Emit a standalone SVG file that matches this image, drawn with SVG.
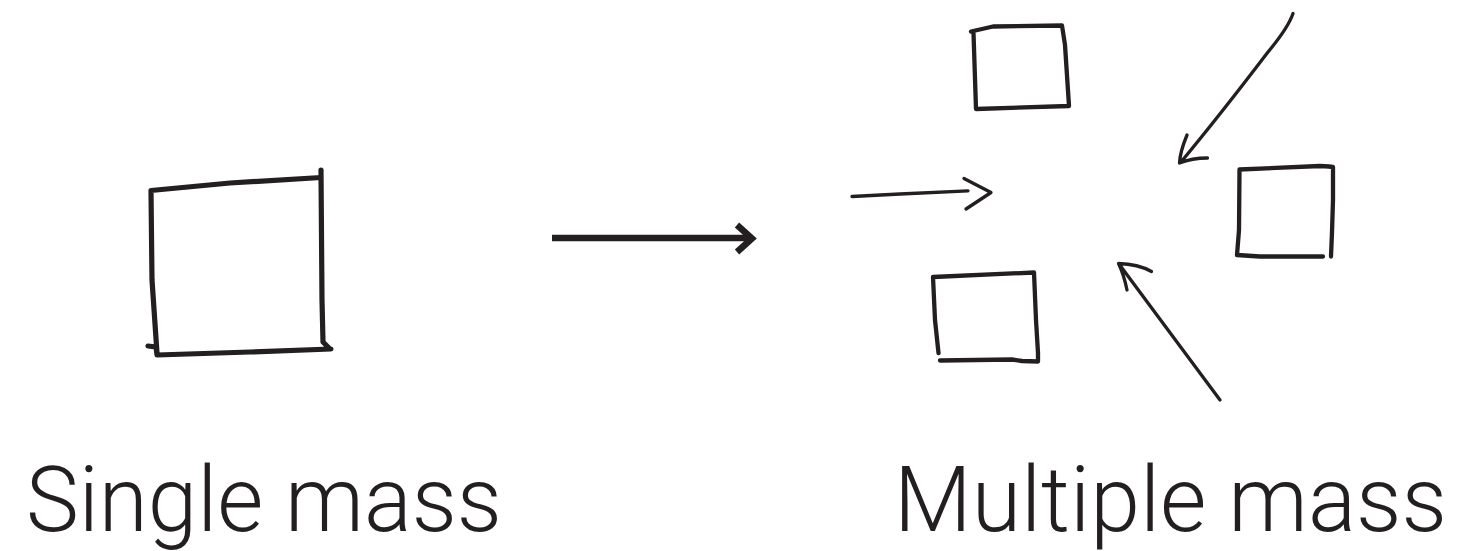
<svg xmlns="http://www.w3.org/2000/svg" width="1462" height="551" viewBox="0 0 1462 551">
<style>
.ink{fill:none;stroke:#231f20;stroke-linecap:round;stroke-linejoin:round}
.big{stroke-width:5.2}
.box{stroke-width:4.3}
.thin{stroke-width:3.3}
.lbl{font-family:Roboto,"Liberation Sans",sans-serif;font-weight:300;font-size:90px;fill:#231f20}
</style>
<rect width="1462" height="551" fill="#ffffff"/>
<g id="single-mass">
<path class="ink big" d="M151,190.5 L230,183 L321,177.5 M321,170 L322,300 L323,342 L330,349 M148,346 L156,347 L157,355 L250,352 L331,349 M151,190.5 L152,280 L157,353"/>
<text class="lbl" x="26" y="531" textLength="476" lengthAdjust="spacingAndGlyphs">Single mass</text>
</g>
<g id="multiple-mass">
<g id="box-top">
<path class="ink box" d="M971,31.5 L993,26.5 L1062,25.5 L1065,45 L1069,106 L976,109 L973.5,33"/>
</g>
<g id="box-right">
<path class="ink box" d="M1239.5,169.5 L1320,166 L1329,166.5 L1333,167 L1333,200 L1332,232 L1331,256.5 M1237,255 L1260,256.5 L1323,256.5 M1239.5,169.5 L1239,230 L1237,255"/>
</g>
<g id="box-bottom">
<path class="ink box" d="M933,277 L1034,272.5 L1036,320 L1038,353 L1038,361.5 L1022,361 L1012,359.5 L940,360.5 M933,277 L935,320 L938.5,353"/>
</g>
<text class="lbl" x="894" y="531" textLength="553" lengthAdjust="spacingAndGlyphs">Multiple mass</text>
</g>
<g id="connectors">
<g id="main-arrow">
<path class="ink" style="stroke-width:6.5;stroke-linecap:butt;stroke-linejoin:miter" d="M552,238 L753,238 M737,225 L752,238.5 L737,252"/>
</g>
<g id="arrow-left">
<path class="ink thin" d="M852,196.5 L900,194 L968,190.8 M964,178.5 L991,192.5 L966,209"/>
</g>
<g id="arrow-topright">
<path class="ink thin" d="M1293,13.5 Q1288,28 1268,52 Q1220,115 1181,162 M1187,135 Q1180,152 1179.5,163 Q1192,158 1207.5,158"/>
</g>
<g id="arrow-bottom">
<path class="ink thin" d="M1220,400 L1119,264 M1127,290 Q1124,275 1118.5,263.5 Q1138,264 1151.5,271.5"/>
</g>
</g>
</svg>
